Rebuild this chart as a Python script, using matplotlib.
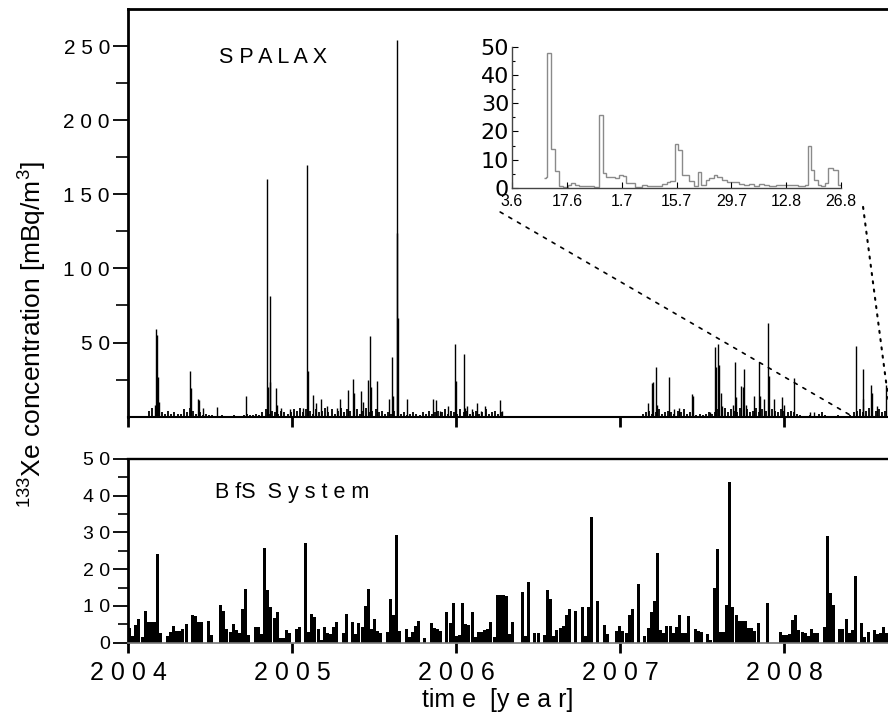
import numpy as np
import matplotlib
matplotlib.use("Agg")
import matplotlib.pyplot as plt
from matplotlib.patches import ConnectionPatch

plt.rcParams['font.family'] = ['Liberation Sans', 'DejaVu Sans']
plt.rcParams['mathtext.default'] = 'regular'

WEEK = 7 / 365.25

# SPALAX: distinct spikes (decimal year, mBq/m3)
spalax_year = [
    2004.165, 2004.170, 2004.178, 2004.182, 2004.188,
    2004.380, 2004.385, 2004.430, 2004.435, 2004.460, 2004.540, 2004.720,
    2004.850, 2004.855, 2004.864, 2004.868, 2004.900, 2004.910, 2004.935, 2004.990,
    2005.070, 2005.093, 2005.098, 2005.126, 2005.145, 2005.177, 2005.215, 2005.275,
    2005.295, 2005.343, 2005.370, 2005.378, 2005.419, 2005.435, 2005.465, 2005.473,
    2005.480, 2005.518, 2005.590, 2005.608, 2005.615, 2005.638, 2005.641, 2005.645,
    2005.700, 2005.858, 2005.878, 2005.900, 2005.950,
    2005.992, 2005.998, 2006.049, 2006.057, 2006.070, 2006.100, 2006.130, 2006.150,
    2006.175, 2006.270, 2006.280,
    2007.170, 2007.195, 2007.203, 2007.220, 2007.228, 2007.297, 2007.330, 2007.360,
    2007.437, 2007.443, 2007.550, 2007.581, 2007.587, 2007.600, 2007.606, 2007.614,
    2007.622, 2007.690, 2007.700, 2007.710, 2007.738, 2007.748, 2007.758, 2007.766,
    2007.820, 2007.845, 2007.855, 2007.878, 2007.900, 2007.910, 2007.940, 2007.990,
    2007.998, 2008.063, 2008.160, 2008.180, 2008.441, 2008.480, 2008.484, 2008.528,
    2008.536, 2008.565, 2008.620,
]
spalax_val = [
    8, 59, 55, 27, 10,
    31, 19, 12, 11, 6, 6.5, 14,
    160.5, 20, 81.5, 23.5, 19, 8, 6, 5,
    6, 169.5, 31, 14.5, 9, 12, 7, 6,
    12, 18, 25.5, 16, 17, 10, 25, 54.5,
    20, 24, 12, 40.5, 14, 254, 124, 66.5,
    12, 12, 11.5, 4, 7.5,
    49, 24, 42.5, 6, 7, 5, 9, 4,
    7.5, 11, 4,
    9, 23, 23.5, 33.5, 8, 26.5, 5, 6,
    15, 14, 3, 47, 33.5, 49, 35, 16,
    7, 8, 37, 13, 21, 20, 32, 8,
    14, 37, 14, 12, 63.5, 27.5, 12, 13,
    8, 26, 3, 3, 48, 32, 12, 21.5,
    16, 7, 21.5,
]

# SPALAX: weekly background level in the two measuring periods
bg_a_start = 2004.13
bg_a = [4, 6,
        2, 1, 3, 2, 4, 2, 3, 2, 2,
        5, 3, 6, 4, 2, 3,
        1, 2, 1, 1,
        0, 0, 1, 0, 0, 0, 1, 0, 0,
        1, 2, 1, 1, 2, 1,
        3, 5, 2, 4, 3, 2, 4, 3, 2,
        3, 5, 4, 6, 3, 5, 4, 2, 5, 3, 4, 6, 3, 5, 2, 4, 6, 3, 5, 4, 3, 5, 2, 4, 6, 3, 4, 5, 3, 4, 2,
        3, 2, 4, 1, 2, 3, 1, 2, 3, 2, 1, 3, 2, 4, 2, 3,
        4, 3, 5, 2, 4, 3, 2, 5, 3, 4, 2, 3, 4, 2, 3, 5, 2, 3, 4, 2, 3]
bg_b_start = 2007.14
bg_b = [2, 3, 4, 2, 3, 5, 2, 3, 4, 3, 2, 4, 3, 5, 2, 3, 2, 1, 2, 1, 2, 3, 2, 3,
        5, 4, 6, 3, 5, 4, 3, 6, 4, 5, 3, 4, 6, 3, 5, 4, 3, 5, 4, 3, 5, 4, 3, 4, 3, 2,
        1, 0, 0, 1, 0, 0, 2, 3, 1, 0, 0, 0, 1, 0, 0, 0, 1,
        3, 4, 5, 3, 4, 6, 3, 4, 5, 3, 4]

# BfS system: weekly values from 2004.0
bfs_start = 2004.0
bfs_val = [
    3.9, 1.8, 4.8, 6.4, 1.6, 8.6, 5.7, 5.7, 5.7, 24.0,
    2.7, 0, 1.8, 3.0, 4.5, 3.2, 3.2, 3.6, 5.1, 0,
    7.6, 7.3, 5.5, 5.5, 0, 5.9, 2.0, 0, 0, 10.2,
    8.6, 3.6, 2.9, 5.1, 3.4, 2.5, 9.2, 14.5, 2.1, 0,
    4.4, 4.4, 2.4, 25.9, 14.2, 9.8, 6.6, 8.4, 1.3, 1.3,
    3.4, 2.5, 0, 3.6, 4.4, 0, 27.2, 3.0, 7.7, 6.9,
    3.6, 0.7, 4.4, 2.7, 2.4, 4.4, 5.7, 0, 2.5, 7.8,
    0, 5.6, 2.4, 5.4, 4.2, 10.0, 14.6, 3.6, 6.4, 3.3,
    2.7, 0, 2.9, 11.8, 7.4, 29.3, 3.3, 0, 3.6, 1.6,
    2.8, 4.5, 6.0, 0, 1.2, 0, 5.3, 3.9, 3.7, 3.3,
    0, 8.3, 5.3, 10.9, 1.8, 2.1, 10.7, 5.1, 4.8, 8.4,
    1.6, 3.0, 2.8, 3.4, 3.6, 5.7, 1.6, 13.0, 13.0, 13.0,
    12.8, 2.4, 5.7, 0, 0, 13.9, 1.8, 16.4, 0, 2.7,
    2.7, 0, 2.1, 14.3, 11.8, 1.9, 3.4, 3.9, 4.6, 7.5,
    9.1, 0, 8.7, 0, 9.8, 1.8, 9.6, 34.1, 0, 11.4,
    0, 4.7, 2.4, 0, 0, 3.2, 4.6, 3.2, 2.7, 7.4,
    9.3, 0, 15.9, 0, 1.9, 3.9, 8.4, 11.4, 24.3, 3.4,
    2.5, 4.6, 4.6, 2.5, 4.4, 7.5, 2.5, 2.7, 7.3, 0,
    3.6, 3.2, 2.8, 0, 2.4, 0.7, 14.8, 25.4, 2.8, 3.0,
    10.3, 43.6, 9.8, 7.5, 6.0, 6.0, 6.0, 3.9, 3.9, 3.3,
    5.4, 0, 0, 10.7, 0, 0, 0, 3.0, 2.1, 2.1,
    2.4, 6.2, 7.4, 3.4, 3.0, 2.5, 1.8, 3.7, 2.5, 2.5,
    0, 4.4, 28.9, 13.4, 10.3, 0, 3.7, 3.7, 6.4, 2.5,
    3.4, 18.2, 0, 5.3, 1.6, 3.0, 0, 3.4, 2.4, 2.7,
    4.4, 2.5,
]

# inset: June 3 - Aug 26 2008, days from June 3 (step edges) and values
inset_edges = [8.2, 8.6, 9.0, 9.9, 10.9, 12.0, 13.1, 14.2, 15.0, 16.1, 17.2,
               18.5, 21.0, 22.2, 23.2, 24.1, 25.3, 26.2, 27.3, 28.4, 29.2,
               31.4, 33.1, 34.4, 35.7, 38.2, 39.5, 40.4, 41.7, 42.5, 43.4,
               45.1, 46.4, 47.4, 48.3, 49.4, 50.3, 51.5, 52.4, 53.7, 55.0,
               55.8, 58.0, 59.3, 60.6, 61.9, 63.1, 64.4, 65.7, 67.4, 69.6,
               71.3, 73.0, 74.7, 75.6, 76.3, 77.1, 78.2, 79.0, 79.9, 80.8,
               82.0, 83.2, 84.0]
inset_val = [3.5, 4.0, 47.7, 13.8, 6.1, 0.7, 0.3, 1.0, 1.8, 1.2,
             0.8, 0.7, 0.5, 25.9, 5.3, 3.9, 3.8, 3.5, 4.5, 4.3,
             1.8, 0.3, 0.9, 0.7, 0.8, 1.5, 2.2, 2.5, 15.5, 13.5,
             4.5, 2.5, 0.7, 5.5, 1.0, 2.7, 3.5, 4.5, 3.8, 3.0,
             2.0, 2.2, 1.5, 1.0, 1.3, 0.8, 1.5, 1.2, 0.8, 1.0,
             1.2, 1.0, 0.6, 1.0, 15.0, 6.3, 3.0, 1.2, 0.7, 1.8,
             7.2, 6.5, 1.2]
inset_ticks = [0, 14, 28, 42, 56, 70, 84]
inset_ticklabels = ['3.6', '17.6', '1.7', '15.7', '29.7', '12.8', '26.8']

years = [2004, 2005, 2006, 2007, 2008]
zoom_from, zoom_to = 2008.42, 2008.65


def spaced(s):
    return " ".join(s)


fig = plt.figure(figsize=(8.88, 7.23), dpi=100)
ax1 = fig.add_axes([0.1441, 0.4237, 0.8559, 0.5639])
ax2 = fig.add_axes([0.1441, 0.1111, 0.8559, 0.2541])
axin = fig.add_axes([0.5766, 0.740, 0.3705, 0.1954])
axin.patch.set_alpha(0)

# ---- top panel (SPALAX)
bg_a_x = bg_a_start + np.arange(len(bg_a)) * WEEK
bg_b_x = bg_b_start + np.arange(len(bg_b)) * WEEK
ax1.vlines(bg_a_x, 0, bg_a, color='k', lw=1.3)
ax1.vlines(bg_b_x, 0, bg_b, color='k', lw=1.3)
ax1.vlines(spalax_year, 0, spalax_val, color='k', lw=1.0)
ax1.set_xlim(2004, 2008.634)
ax1.set_ylim(0, 275)
ax1.spines['right'].set_visible(False)
for s in ['top', 'left']:
    ax1.spines[s].set_linewidth(2)
ax1.spines['bottom'].set_linewidth(1.5)
ax1.set_xticks(years)
ax1.tick_params(axis='x', direction='out', length=7.2, width=2, labelbottom=False)
ax1.set_yticks([50, 100, 150, 200, 250])
ax1.set_yticklabels([spaced(str(v)) for v in [50, 100, 150, 200, 250]], fontsize=15)
ax1.set_yticks([25, 75, 125, 175, 225], minor=True)
ax1.tick_params(axis='y', which='major', direction='out', length=11, width=1.3, pad=2)
ax1.tick_params(axis='y', which='minor', direction='out', length=9, width=1.2)
ax1.text(0.1197, 0.8675, spaced("SPALAX"), transform=ax1.transAxes,
         fontsize=15.5, va='baseline', ha='left')

# ---- bottom panel (BfS)
bfs_x = bfs_start + np.arange(len(bfs_val)) * WEEK
ax2.bar(bfs_x, bfs_val, width=WEEK * 0.95, align='edge', color='k', lw=0)
ax2.set_xlim(2004, 2008.634)
ax2.set_ylim(0, 50)
ax2.spines['right'].set_visible(False)
ax2.spines['top'].set_linewidth(1.7)
ax2.spines['left'].set_linewidth(2)
ax2.spines['bottom'].set_linewidth(1.2)
ax2.spines['bottom'].set_color('#777777')
ax2.set_xticks(years)
ax2.set_xticklabels([spaced(str(y)) for y in years], fontsize=18)
ax2.tick_params(axis='x', direction='out', length=7.2, width=2, pad=6)
ax2.set_yticks([0, 10, 20, 30, 40, 50])
ax2.set_yticklabels([spaced(str(v)) for v in [0, 10, 20, 30, 40, 50]], fontsize=14)
ax2.set_yticks([5, 15, 25, 35, 45], minor=True)
ax2.tick_params(axis='y', which='major', direction='out', length=11, width=1.3, pad=2)
ax2.tick_params(axis='y', which='minor', direction='out', length=7.2, width=1.2)
ax2.text(0.1145, 0.7877, "B fS  S y s t e m", transform=ax2.transAxes,
         fontsize=15.5, va='baseline', ha='left')

# ---- inset
axin.stairs(inset_val, inset_edges, color='#8a8a8a', lw=1.0, baseline=None)
axin.set_xlim(0, 84)
axin.set_ylim(0, 50)
for s in ['top', 'right']:
    axin.spines[s].set_visible(False)
for s in ['left', 'bottom']:
    axin.spines[s].set_color('#444444')
    axin.spines[s].set_linewidth(1.0)
axin.set_xticks(inset_ticks)
axin.set_xticklabels(inset_ticklabels, fontsize=11.5)
axin.set_yticks([0, 10, 20, 30, 40, 50])
axin.set_yticklabels(['0', '10', '20', '30', '40', '50'], fontsize=16,
                     family='DejaVu Sans')
axin.set_yticks([5, 15, 25, 35, 45], minor=True)
axin.tick_params(axis='x', direction='in', length=4, width=0.8, pad=4)
axin.tick_params(axis='y', which='major', direction='in', length=4, width=0.8, pad=2)
axin.tick_params(axis='y', which='minor', direction='in', length=2.5, width=0.8)

# zoom connectors
con1 = ConnectionPatch(xyA=(-0.036, -0.17), coordsA=axin.transAxes,
                       xyB=(zoom_from, 0), coordsB=ax1.transData,
                       color='k', lw=1.2, linestyle=(0, (2, 4)))
con2 = ConnectionPatch(xyA=(1.067, -0.134), coordsA=axin.transAxes,
                       xyB=(zoom_to, 0), coordsB=ax1.transData,
                       color='k', lw=1.5, linestyle=(0, (1, 3)))
fig.add_artist(con1)
fig.add_artist(con2)

# axis titles
fig.text(0.037, 0.5366, "$^{133}$Xe concentration [mBq/m$^{3}$]", rotation=90,
         ha='center', va='center', fontsize=19)
fig.text(0.56, 0.032, "tim e  [y e a r]", ha='center', va='center', fontsize=18)

fig.savefig("out.png", dpi=100)
